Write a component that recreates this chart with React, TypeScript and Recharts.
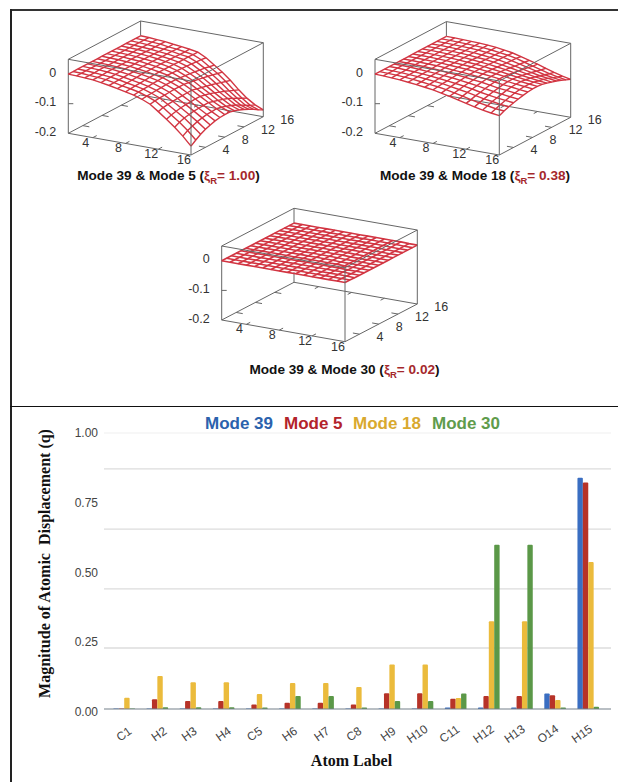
import React from 'react';
import {
  Bar,
  BarChart,
  CartesianGrid,
  Legend,
  ReferenceLine,
  Scatter,
  ScatterChart,
  XAxis,
  YAxis,
} from 'recharts';

// ---- bar chart data ----
const atoms = ['C1', 'H2', 'H3', 'H4', 'C5', 'H6', 'H7', 'C8', 'H9', 'H10', 'C11', 'H12', 'H13', 'O14', 'H15'];
const mode39 = [0.002, 0.002, 0.002, 0.002, 0.002, 0.002, 0.002, 0.002, 0.002, 0.002, 0.005, 0.005, 0.005, 0.056, 0.838];
const mode5 = [0.002, 0.035, 0.029, 0.029, 0.016, 0.023, 0.023, 0.016, 0.057, 0.057, 0.037, 0.047, 0.047, 0.05, 0.821];
const mode18 = [0.041, 0.12, 0.097, 0.097, 0.054, 0.094, 0.094, 0.08, 0.161, 0.161, 0.04, 0.318, 0.318, 0.033, 0.533];
const mode30 = [0.002, 0.006, 0.006, 0.006, 0.005, 0.047, 0.047, 0.005, 0.029, 0.029, 0.056, 0.595, 0.595, 0.005, 0.008];
const yTicks = [0, 0.25, 0.5, 0.75, 1];
const gridValues = [0.221, 0.435, 0.652, 0.87];

// the atom labels in the picture drift left of their bars towards the right
const tickNudge = [0, 2, -1, 0, -2, 0, -1, -2, -1, -5, -6, -5, -7, -7, -6];

const barData = atoms.map((atom, i) => ({
  atom,
  m39: mode39[i],
  m5: mode5[i],
  m18: mode18[i],
  m30: mode30[i],
}));

const legendItems = [
  { text: 'Mode 39', color: '#2b62ad', width: 79 },
  { text: 'Mode 5', color: '#b3232b', width: 69 },
  { text: 'Mode 18', color: '#d9a92e', width: 79 },
  { text: 'Mode 30', color: '#5f9c4c', width: 79 },
];

// ---- surfaces: depth below zero in thousandths, one row per y step, 16 x steps each ----
const surfaceA = [
  [0, 1, 3, 5, 9, 14, 20, 26, 32, 41, 53, 73, 94, 116, 141, 170],
  [0, 1, 3, 5, 8, 13, 19, 24, 30, 39, 50, 68, 88, 108, 131, 158],
  [0, 1, 3, 5, 8, 12, 18, 23, 29, 38, 49, 66, 84, 102, 124, 147],
  [0, 1, 2, 4, 7, 12, 17, 22, 28, 37, 48, 64, 81, 99, 118, 139],
  [0, 1, 2, 4, 7, 11, 16, 21, 27, 36, 47, 63, 79, 96, 114, 133],
  [0, 1, 2, 4, 6, 11, 15, 20, 26, 35, 46, 62, 78, 95, 111, 128],
  [0, 1, 2, 4, 6, 10, 14, 19, 25, 35, 46, 61, 77, 94, 110, 125],
  [0, 1, 2, 4, 6, 10, 14, 19, 25, 35, 46, 61, 77, 93, 109, 124],
  [0, 1, 2, 4, 6, 10, 14, 19, 26, 37, 49, 65, 81, 98, 112, 124],
  [0, 1, 2, 4, 7, 10, 14, 19, 27, 39, 52, 69, 85, 103, 118, 128],
  [0, 1, 2, 4, 7, 10, 15, 19, 28, 41, 55, 73, 91, 108, 124, 134],
  [0, 1, 2, 4, 7, 11, 15, 20, 29, 43, 59, 77, 97, 114, 131, 141],
  [0, 1, 3, 5, 8, 11, 15, 20, 30, 46, 62, 82, 103, 122, 140, 149],
  [0, 1, 3, 5, 8, 11, 16, 20, 32, 48, 66, 87, 110, 130, 149, 158],
  [0, 1, 3, 5, 9, 12, 16, 21, 33, 52, 70, 92, 117, 139, 158, 168],
  [0, 1, 3, 5, 9, 12, 16, 21, 35, 55, 74, 97, 124, 147, 165, 177],
];

const surfaceB = [
  [0, 1, 3, 5, 8, 11, 15, 19, 25, 31, 38, 45, 52, 58, 63, 67],
  [0, 1, 2, 4, 7, 10, 14, 17, 22, 28, 34, 41, 47, 52, 57, 60],
  [0, 1, 2, 4, 6, 9, 12, 15, 20, 25, 30, 36, 42, 46, 51, 54],
  [0, 0, 2, 3, 5, 8, 11, 14, 18, 22, 27, 33, 38, 42, 46, 49],
  [0, 0, 1, 3, 5, 7, 10, 12, 16, 20, 24, 29, 34, 38, 42, 45],
  [0, 0, 1, 2, 4, 6, 9, 11, 14, 18, 21, 26, 31, 34, 38, 41],
  [0, 0, 1, 2, 3, 5, 8, 10, 13, 16, 19, 24, 28, 31, 35, 38],
  [0, 0, 1, 2, 3, 5, 7, 9, 12, 15, 18, 22, 26, 30, 33, 36],
  [0, 0, 1, 2, 3, 5, 7, 9, 12, 15, 18, 22, 26, 30, 33, 36],
  [0, 0, 1, 2, 3, 5, 7, 9, 12, 16, 19, 24, 28, 32, 35, 38],
  [0, 0, 1, 2, 3, 5, 7, 10, 13, 17, 21, 26, 31, 35, 39, 42],
  [0, 0, 1, 2, 3, 5, 8, 10, 14, 18, 23, 29, 34, 39, 43, 47],
  [0, 0, 1, 2, 3, 5, 8, 11, 15, 20, 26, 32, 38, 44, 48, 52],
  [0, 0, 1, 2, 3, 5, 8, 11, 15, 21, 28, 35, 42, 49, 54, 58],
  [0, 0, 1, 2, 3, 5, 8, 12, 16, 22, 30, 38, 46, 54, 60, 65],
  [0, 0, 1, 2, 3, 5, 8, 12, 17, 24, 32, 40, 49, 58, 66, 72],
];

const surfaceC = [
  [0, 0, 0, 0, 0, 0, 0, 0, 0, 0, 0, 0, 0, 0, 0, 0],
  [0, 0, 0, 0, 0, 0, 0, 0, 0, 0, 0, 0, 0, 0, 0, 0],
  [0, 0, 0, 0, 0, 0, 0, 0, 0, 0, 0, 0, 0, 0, 0, 1],
  [0, 0, 0, 0, 0, 0, 0, 0, 0, 0, 0, 0, 0, 0, 1, 1],
  [0, 0, 0, 0, 0, 0, 0, 0, 0, 0, 0, 0, 0, 1, 1, 1],
  [0, 0, 0, 0, 0, 0, 0, 0, 0, 0, 0, 0, 1, 1, 1, 1],
  [0, 0, 0, 0, 0, 0, 0, 0, 0, 0, 0, 1, 1, 1, 1, 1],
  [0, 0, 0, 0, 0, 0, 0, 0, 0, 0, 0, 1, 1, 1, 1, 1],
  [0, 0, 0, 0, 0, 0, 0, 0, 0, 0, 0, 1, 1, 1, 1, 1],
  [0, 0, 0, 0, 0, 0, 0, 0, 0, 0, 0, 1, 1, 1, 1, 1],
  [0, 0, 0, 0, 0, 0, 0, 0, 0, 0, 0, 0, 1, 1, 1, 1],
  [0, 0, 0, 0, 0, 0, 0, 0, 0, 0, 0, 0, 1, 1, 1, 1],
  [0, 0, 0, 0, 0, 0, 0, 0, 0, 0, 0, 0, 0, 1, 1, 1],
  [0, 0, 0, 0, 0, 0, 0, 0, 0, 0, 0, 0, 0, 1, 1, 1],
  [0, 0, 0, 0, 0, 0, 0, 0, 0, 0, 0, 0, 0, 0, 1, 1],
  [0, 0, 0, 0, 0, 0, 0, 0, 0, 0, 0, 0, 0, 0, 1, 1],
];

const gridTicks = [4, 8, 12, 16];
const zTicks = [0, -0.1, -0.2];

const RED = '#d23542';
const BOX = '#666666';
const Z_SCALE = 296;
const Z_TOP = 0.05;

type Pt = { x: number; y: number; label?: string; anchor?: string };

// screen corners of each box floor; everything else is projected from these
const panels = [
  {
    surface: surfaceA,
    meshWidth: 1.4,
    left: { x: 68.3, y: 133.3 },
    front: { x: 191, y: 155 },
    right: { x: 263.3, y: 116.7 },
    backLow: -0.2,
    caption: { center: 168.5, y: 175.5, text: 'Mode 39 & Mode 5 (', value: '= 1.00' },
  },
  {
    surface: surfaceB,
    meshWidth: 1.4,
    left: { x: 375, y: 133.3 },
    front: { x: 499.3, y: 155 },
    right: { x: 570.7, y: 117.3 },
    backLow: -0.2,
    caption: { center: 475, y: 175.5, text: 'Mode 39 & Mode 18 (', value: '= 0.38' },
  },
  {
    surface: surfaceC,
    meshWidth: 1.6,
    left: { x: 221.7, y: 320 },
    front: { x: 345, y: 341.7 },
    right: { x: 417.3, y: 304 },
    backLow: -0.166,
    caption: { center: 344.5, y: 370, text: 'Mode 39 & Mode 30 (', value: '= 0.02' },
  },
];

type Panel = (typeof panels)[number];

const project = (p: Panel, u: number, v: number, z: number): Pt => {
  const a = (u - 1) / 15;
  const b = (v - 1) / 15;
  return {
    x: p.left.x + a * (p.front.x - p.left.x) + b * (p.right.x - p.front.x),
    y: p.left.y + a * (p.front.y - p.left.y) + b * (p.right.y - p.front.y) - (z + 0.2) * Z_SCALE,
  };
};

const meshLines = (p: Panel): Pt[][] => {
  const rows = p.surface.map((row, j) => row.map((d, i) => project(p, i + 1, j + 1, -d / 1000)));
  const cols = rows[0].map((_, i) => rows.map((row) => row[i]));
  return [...rows, ...cols];
};

const boxBack = (p: Panel): Pt[][] => {
  const floor = [
    project(p, 1, 1, -0.2),
    project(p, 16, 1, -0.2),
    project(p, 16, 16, -0.2),
    project(p, 1, 16, -0.2),
    project(p, 1, 1, -0.2),
  ];
  const backTop = project(p, 1, 16, Z_TOP);
  const backSurface = project(p, 1, 16, -p.surface[15][0] / 1000);
  const ticks: Pt[][] = [];
  [4, 8, 12].forEach((t) => {
    ticks.push([project(p, t, 1, -0.2), project(p, t, 1.8, -0.2)]);
    ticks.push([project(p, t, 16, -0.2), project(p, t, 15.2, -0.2)]);
    ticks.push([project(p, 16, t, -0.2), project(p, 15.2, t, -0.2)]);
    ticks.push([project(p, 1, t, -0.2), project(p, 1.8, t, -0.2)]);
  });
  const zTick = project(p, 1, 1, -0.1);
  return [
    floor,
    [backTop, backSurface],
    [project(p, 1, 16, p.backLow), project(p, 1, 16, -0.2)],
    [project(p, 1, 1, -0.2), project(p, 1, 1, Z_TOP)],
    [zTick, { x: zTick.x + 5, y: zTick.y }],
    ...ticks,
  ];
};

const boxFront = (p: Panel): Pt[][] => [
  [
    project(p, 1, 1, Z_TOP),
    project(p, 16, 1, Z_TOP),
    project(p, 16, 16, Z_TOP),
    project(p, 1, 16, Z_TOP),
    project(p, 1, 1, Z_TOP),
  ],
  [project(p, 16, 1, -0.2), project(p, 16, 1, Z_TOP)],
  [project(p, 16, 16, -0.2), project(p, 16, 16, Z_TOP)],
];

const axisLabels = (p: Panel): Pt[] => {
  const out: Pt[] = [];
  gridTicks.forEach((t) => {
    const a = project(p, t, 1, -0.2);
    out.push({ x: a.x - 7, y: a.y + 5, label: String(t), anchor: 'middle' });
    const b = project(p, 16, t, -0.2);
    out.push({ x: b.x + 17, y: b.y + 3, label: String(t), anchor: 'start' });
  });
  zTicks.forEach((z) => {
    const c = project(p, 1, 1, z);
    out.push({ x: c.x - 12, y: c.y - 1.5, label: String(z), anchor: 'end' });
  });
  return out;
};

const NoDot = () => <g />;

const AxisText = (props: any) => (
  <text
    x={props.cx}
    y={props.cy}
    textAnchor={props.payload.anchor}
    dominantBaseline="central"
    fontFamily="'Liberation Sans', Arial, sans-serif"
    fontSize={12.5}
    fill="#333"
  >
    {props.payload.label}
  </text>
);

const wire = (key: string, pts: Pt[], color: string, width: number) => (
  <Scatter
    key={key}
    data={pts}
    fill={color}
    line={{ stroke: color, strokeWidth: width }}
    shape={NoDot}
    isAnimationActive={false}
  />
);

const YTick = (props: any) => {
  const v = props.payload.value;
  return (
    <text
      x={98}
      y={props.y + 3 * (1 - v)}
      textAnchor="end"
      dominantBaseline="central"
      fontFamily="'Liberation Sans', Arial, sans-serif"
      fontSize={12}
      fill="#444"
    >
      {v.toFixed(2)}
    </text>
  );
};

const XTick = (props: any) => {
  const x = props.x + tickNudge[props.index];
  const y = props.y + 17;
  return (
    <text
      x={x}
      y={y}
      transform={`rotate(-35 ${x} ${y})`}
      textAnchor="middle"
      dominantBaseline="central"
      fontFamily="'Liberation Sans', Arial, sans-serif"
      fontSize={12}
      fill="#444"
    >
      {props.payload.value}
    </text>
  );
};

const serifLabel = {
  fontFamily: "'Liberation Serif', serif",
  fontWeight: 700,
  fontSize: 16,
  fill: '#111',
};

const XTitle = () => (
  <text x={351.5} y={360} textAnchor="middle" style={serifLabel}>
    Atom Label
  </text>
);

const YTitle = () => (
  <text x={50} y={157.5} textAnchor="middle" transform="rotate(-90 50 157.5)" style={serifLabel}>
    {'Magnitude of Atomic\u00A0 Displacement (q)'}
  </text>
);

const LegendRow = () => (
  <div
    style={{
      display: 'flex',
      fontFamily: "'Liberation Sans', Arial, sans-serif",
      fontWeight: 700,
      fontSize: 17,
      lineHeight: '20px',
    }}
  >
    {legendItems.map((item) => (
      <span key={item.text} style={{ color: item.color, width: item.width, whiteSpace: 'nowrap' }}>
        {item.text}
      </span>
    ))}
  </div>
);

const Caption = ({ c }: { c: Panel['caption'] }) => (
  <div
    style={{
      position: 'absolute',
      left: c.center,
      top: c.y - 8,
      transform: 'translateX(-50%)',
      fontFamily: "'Liberation Sans', Arial, sans-serif",
      fontWeight: 700,
      fontSize: 13.6,
      lineHeight: '16px',
      whiteSpace: 'nowrap',
      color: '#111',
    }}
  >
    {c.text}
    <span style={{ color: '#a5282c' }}>
      ξ<sub style={{ fontSize: 9.5, lineHeight: 0 }}>R</sub>
      {c.value}
    </span>
    )
  </div>
);

export default function App() {
  return (
    <div
      style={{
        position: 'absolute',
        left: 0,
        top: 0,
        width: 618,
        height: 782,
        background: '#fff',
        overflow: 'hidden',
      }}
    >
      <ScatterChart width={618} height={400} margin={{ top: 0, right: 0, bottom: 0, left: 0 }} style={{ position: 'absolute', left: 0, top: 0 }}>
        <XAxis type="number" dataKey="x" domain={[0, 618]} hide />
        <YAxis type="number" dataKey="y" domain={[0, 400]} reversed hide />
        {panels.flatMap((p, n) => [
          ...boxBack(p).map((pts, i) => wire(`back-${n}-${i}`, pts, BOX, 1)),
          ...meshLines(p).map((pts, i) => wire(`mesh-${n}-${i}`, pts, RED, p.meshWidth)),
          ...boxFront(p).map((pts, i) => wire(`front-${n}-${i}`, pts, BOX, 1)),
          <Scatter key={`labels-${n}`} data={axisLabels(p)} shape={AxisText} isAnimationActive={false} />,
        ])}
      </ScatterChart>

      {panels.map((p) => (
        <Caption key={p.caption.text} c={p.caption} />
      ))}

      <BarChart
        width={618}
        height={376}
        data={barData}
        barSize={5.4}
        barGap={0}
        margin={{ top: 27, right: 7, bottom: 23, left: 44 }}
        style={{ position: 'absolute', left: 0, top: 406 }}
      >
        <CartesianGrid vertical={false} horizontalValues={gridValues} stroke="#dcdcdc" strokeWidth={1.3} />
        <ReferenceLine y={1} stroke="#efefef" />
        <XAxis
          dataKey="atom"
          interval={0}
          padding={{ left: 3.4, right: 6.4 }}
          height={50}
          axisLine={{ stroke: '#75808a', strokeWidth: 1.2 }}
          tickLine={false}
          tick={XTick}
          label={{ content: XTitle }}
        />
        <YAxis
          width={60}
          domain={[0, 1]}
          ticks={yTicks}
          axisLine={false}
          tickLine={false}
          tick={YTick}
          label={{ content: YTitle }}
        />
        <Legend
          layout="horizontal"
          verticalAlign="middle"
          align="center"
          content={LegendRow}
          wrapperStyle={{ left: 205, top: 8, width: 320 }}
        />
        <Bar dataKey="m39" fill="#3a6ec2" radius={[1, 1, 0, 0]} isAnimationActive={false} />
        <Bar dataKey="m5" fill="#b73328" radius={[1, 1, 0, 0]} isAnimationActive={false} />
        <Bar dataKey="m18" fill="#ebbb3c" radius={[1, 1, 0, 0]} isAnimationActive={false} />
        <Bar dataKey="m30" fill="#5b9848" radius={[1, 1, 0, 0]} isAnimationActive={false} />
      </BarChart>

      {/* outer frame lines */}
      <div style={{ position: 'absolute', left: 10, top: 9, right: 0, height: 1.5, background: '#333' }} />
      <div style={{ position: 'absolute', left: 10, top: 9, bottom: 0, width: 1.5, background: '#222' }} />
      <div style={{ position: 'absolute', left: 10, top: 405.5, right: 0, height: 1.5, background: '#111' }} />
    </div>
  );
}
